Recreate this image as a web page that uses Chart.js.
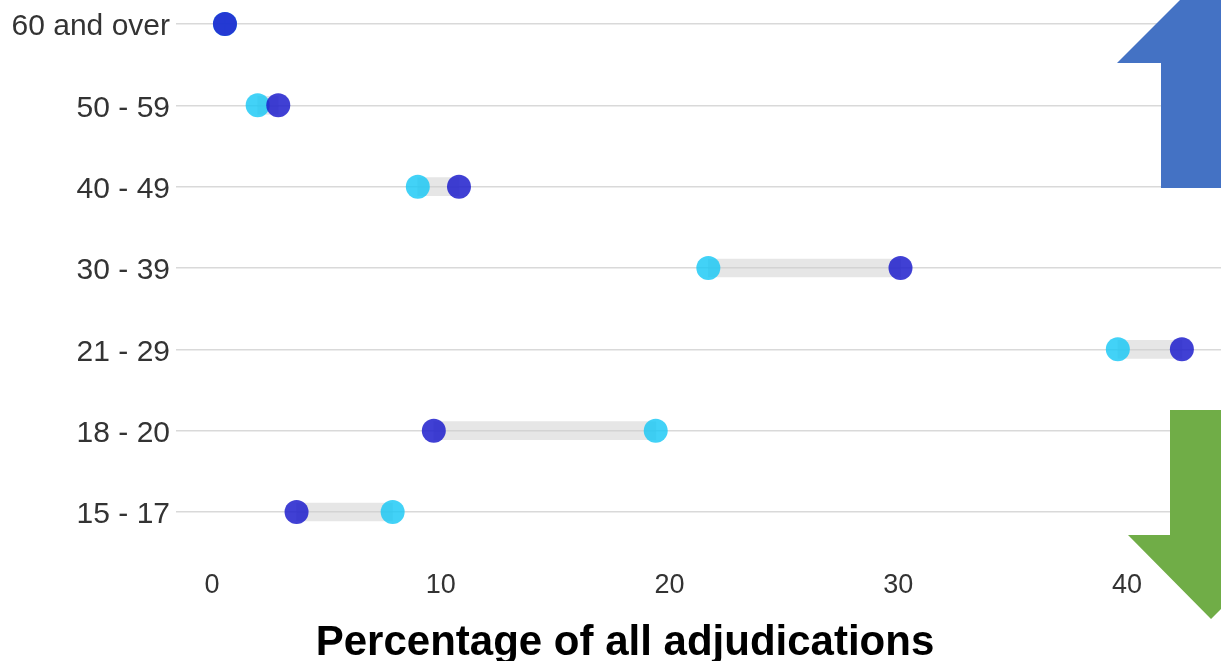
<!DOCTYPE html>
<html>
<head>
<meta charset="utf-8">
<script src="https://cdn.jsdelivr.net/npm/chart.js@4/dist/chart.umd.min.js"></script>
<style>
	html, body { margin: 0; padding: 0; background: #fff; }
	#wrap { width: 1221px; height: 661px; }
</style>
</head>
<body>
<div id="wrap"><canvas id="dumbbell"></canvas></div>
<script>
// age groups, top to bottom
const ageGroups = ['60 and over', '50 - 59', '40 - 49', '30 - 39', '21 - 29', '18 - 20', '15 - 17']
// percentage of all adjudications (light = first series, dark = second series)
const lightValues = [0.57, 2.0, 9.0, 21.7, 39.6, 19.4, 7.9]
const darkValues = [0.57, 2.9, 10.8, 30.1, 42.4, 9.7, 3.7]
const xTicks = [0, 10, 20, 30, 40]
const xTitle = 'Percentage of all adjudications'

// gray connector between the two dots
let connectors = ageGroups.map((g, i) => [lightValues[i], darkValues[i]])

//arrows + axis title drawn on top
const extras = {
	id: 'extras',
	afterDraw(chart) {
		const ctx = chart.ctx
		ctx.save()
		// blue arrow pointing up
		ctx.fillStyle = '#4472c4'
		ctx.beginPath()
		ctx.moveTo(1202, -22)
		ctx.lineTo(1287, 63)
		ctx.lineTo(1243, 63)
		ctx.lineTo(1243, 188)
		ctx.lineTo(1161, 188)
		ctx.lineTo(1161, 63)
		ctx.lineTo(1117, 63)
		ctx.closePath()
		ctx.fill()
		// green arrow pointing down
		ctx.fillStyle = '#70ad47'
		ctx.beginPath()
		ctx.moveTo(1170, 410)
		ctx.lineTo(1252, 410)
		ctx.lineTo(1252, 535)
		ctx.lineTo(1294, 535)
		ctx.lineTo(1211, 619)
		ctx.lineTo(1128, 535)
		ctx.lineTo(1170, 535)
		ctx.closePath()
		ctx.fill()
		// x axis title
		ctx.fillStyle = '#000'
		ctx.font = 'bold 42px "Liberation Sans", Arial, sans-serif'
		ctx.textAlign = 'center'
		ctx.textBaseline = 'alphabetic'
		ctx.fillText(xTitle, 625, 655)
		ctx.restore()
	}
}

const config = {
	type: 'bar',
	data: {
		labels: ageGroups,
		datasets: [
			{
				type: 'bar',
				data: connectors,
				backgroundColor: 'rgba(205, 205, 205, 0.5)',
				barThickness: 18,
				clip: false,
				order: 3
			},
			{
				type: 'line',
				data: lightValues,
				showLine: false,
				pointRadius: 12,
				pointHoverRadius: 12,
				pointBackgroundColor: 'rgba(25, 200, 245, 0.82)',
				pointBorderWidth: 0,
				clip: false,
				order: 2
			},
			{
				type: 'line',
				data: darkValues,
				showLine: false,
				pointRadius: 12,
				pointHoverRadius: 12,
				pointBackgroundColor: 'rgba(30, 30, 205, 0.85)',
				pointBorderWidth: 0,
				clip: false,
				order: 1
			}
		]
	},
	options: {
		indexAxis: 'y',
		responsive: true,
		maintainAspectRatio: false,
		animation: false,
		layout: { autoPadding: false, padding: { top: 23, left: 0, right: 0, bottom: 0 } },
		plugins: {
			legend: { display: false },
			tooltip: { enabled: false }
		},
		scales: {
			x: {
				type: 'linear',
				min: -1.57,
				max: 44.11,
				grid: { display: false },
				border: { display: false },
				afterBuildTicks: (scale) => {
					scale.ticks = xTicks.map(v => ({ value: v }))
				},
				afterFit: (scale) => {
					scale.height = 149
				},
				ticks: {
					padding: 49,
					color: '#333',
					font: { family: '"Liberation Sans", Arial, sans-serif', size: 27 }
				}
			},
			y: {
				type: 'category',
				offset: false,
				grid: { color: '#d9d9d9', drawTicks: false, lineWidth: 1.5, offset: false },
				border: { display: false },
				afterFit: (scale) => {
					scale.width = 176
				},
				ticks: {
					padding: 6,
					labelOffset: 3,
					color: '#333',
					font: { family: '"Liberation Sans", Arial, sans-serif', size: 30 }
				}
			}
		}
	},
	plugins: [extras]
}

const chart = new Chart(document.querySelector('#dumbbell'), config)
</script>
</body>
</html>
